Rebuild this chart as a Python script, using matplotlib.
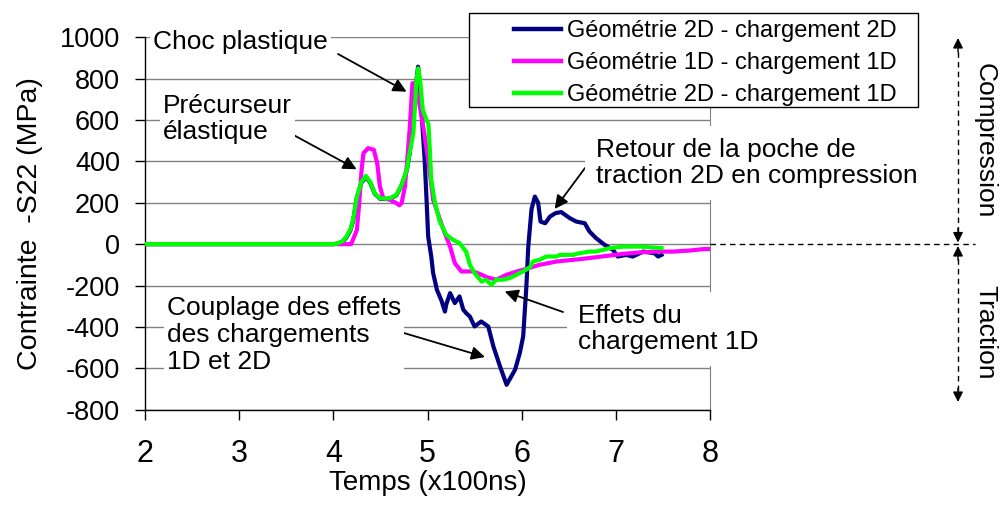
import matplotlib
matplotlib.use("Agg")
import matplotlib.pyplot as plt
from matplotlib.lines import Line2D
from matplotlib.patches import Rectangle, FancyArrowPatch

plt.rcParams['font.family'] = ['Liberation Sans', 'DejaVu Sans']
plt.rcParams['axes.unicode_minus'] = False

# ---------------- data ----------------
labels = ["Géométrie 2D - chargement 2D",
          "Géométrie 1D - chargement 1D",
          "Géométrie 2D - chargement 1D"]
colors = ["#000080", "#FF00FF", "#00FF00"]

x_2d2d = [2.0, 3.9, 4.0, 4.035, 4.10, 4.14, 4.18, 4.21, 4.25, 4.30, 4.345, 4.39, 4.44, 4.495,
          4.55, 4.60, 4.67, 4.725, 4.78, 4.81, 4.85, 4.88, 4.90, 4.94, 4.97, 4.99, 5.007, 5.04,
          5.06, 5.10, 5.15, 5.185, 5.20, 5.24, 5.29, 5.34, 5.38, 5.41, 5.45, 5.50, 5.57, 5.645,
          5.70, 5.77, 5.84, 5.93, 5.98, 6.016, 6.034, 6.05, 6.07, 6.105, 6.14, 6.175, 6.20,
          6.25, 6.30, 6.36, 6.42, 6.51, 6.58, 6.67, 6.72, 6.79, 6.88, 6.97, 7.02, 7.11, 7.18,
          7.29, 7.41, 7.45, 7.485]
y_2d2d = [0, 0, 0, 2, 12, 33, 65, 112, 225, 298, 325, 298, 244, 220,
          218, 220, 236, 284, 357, 437, 600, 778, 858, 616, 407, 214, 37, -60,
          -140, -221, -275, -326, -290, -237, -285, -253, -317, -333, -350, -398, -374, -398,
          -495, -591, -680, -607, -527, -446, -317, -205, -12, 170, 230, 200, 109,
          101, 133, 150, 155, 126, 109, 101, 61, 29, -3, -28, -60, -52, -60,
          -36, -44, -60, -52]

x_1d1d = [2.0, 4.19, 4.25, 4.275, 4.30, 4.32, 4.37, 4.43, 4.466, 4.495, 4.53, 4.60, 4.67,
          4.70, 4.725, 4.76, 4.785, 4.81, 4.84, 4.866, 4.90, 4.955, 5.007, 5.06, 5.17, 5.24,
          5.29, 5.36, 5.485, 5.56, 5.63, 5.73, 5.84, 5.95, 6.016, 6.19, 6.37, 6.65, 6.90,
          7.08, 7.255, 7.43, 7.61, 7.785, 7.93, 8.0]
y_1d1d = [0, 0, 69, 198, 359, 440, 464, 456, 391, 278, 222, 214, 198,
          188, 198, 278, 407, 552, 778, 778, 713, 568, 407, 214, 69, -12,
          -92, -132, -132, -145, -160, -172, -148, -132, -124, -100, -84, -71, -57,
          -47, -40, -36, -36, -31, -24, -24]

x_2d1d = [2.0, 4.0, 4.035, 4.10, 4.14, 4.18, 4.21, 4.25, 4.30, 4.345, 4.39, 4.44, 4.495,
          4.55, 4.60, 4.67, 4.725, 4.78, 4.81, 4.85, 4.88, 4.90, 4.92, 4.95, 4.99, 5.01,
          5.025, 5.04, 5.08, 5.13, 5.20, 5.27, 5.34, 5.41, 5.45, 5.50, 5.575, 5.62, 5.68,
          5.73, 5.80, 5.875, 5.91, 5.98, 6.016, 6.09, 6.12, 6.19, 6.26, 6.37, 6.405, 6.55,
          6.58, 6.72, 6.79, 6.94, 7.08, 7.255, 7.485]
y_2d1d = [0, 0, 2, 15, 37, 70, 117, 230, 302, 330, 302, 246, 222,
          220, 222, 238, 286, 359, 440, 536, 778, 850, 800, 650, 600, 580,
          455, 310, 198, 109, 45, 21, 5, -36, -100, -140, -181, -172, -197,
          -172, -172, -164, -156, -140, -132, -111, -84, -76, -60, -60, -52, -52,
          -47, -36, -36, -19, -12, -12, -19]

series_x = [x_2d2d, x_1d1d, x_2d1d]
series_y = [y_2d2d, y_1d1d, y_2d1d]

x_ticks = [2, 3, 4, 5, 6, 7, 8]
y_ticks = [-800, -600, -400, -200, 0, 200, 400, 600, 800, 1000]

# ---------------- figure ----------------
W, H = 1002, 507
fig = plt.figure(figsize=(W / 100, H / 100), dpi=100)

def fp(px, py):
    """pixel (from top-left) -> figure fraction"""
    return (px / W, 1 - py / H)

L, R, T, B = 145, 710, 37.3, 409.6
ax = fig.add_axes([L / W, 1 - B / H, (R - L) / W, (B - T) / H])

for xs, ys, c, lab in zip(series_x, series_y, colors, labels):
    ax.plot(xs, ys, color=c, lw=3.0, label=lab, solid_joinstyle='round', zorder=3)

ax.set_xlim(2, 8)
ax.set_ylim(-800, 1000)
ax.set_xticks(x_ticks)
ax.set_yticks(y_ticks)
ax.tick_params(axis='x', labelsize=22, length=7, width=1, pad=14, direction='out')
ax.tick_params(axis='y', labelsize=19.5, length=7, width=1, pad=11, direction='out')
ax.yaxis.grid(True, color='#808080', lw=1)
ax.set_axisbelow(True)
ax.spines['top'].set_visible(False)
ax.spines['right'].set_color('#808080')
ax.spines['left'].set_linewidth(1)
ax.spines['bottom'].set_linewidth(1)
ax.set_xlabel("Temps (x100ns)", fontsize=20, labelpad=1)
ax.set_ylabel("Contrainte  -S22 (MPa)", fontsize=20.5, labelpad=12)

# ---------------- legend ----------------
fig.patches.append(Rectangle(fp(469, 107), (918 - 469) / W, (107 - 13) / H,
                             transform=fig.transFigure, facecolor='white',
                             edgecolor='black', lw=1, zorder=5))
leg = fig.legend(loc='upper left', bbox_to_anchor=fp(514, 20), frameon=False,
                 fontsize=17, handlelength=2.0, handletextpad=0.25,
                 labelspacing=0.42, borderpad=0, borderaxespad=0)
for h in leg.get_lines():
    h.set_linewidth(3.2)
leg.set_zorder(6)

# ---------------- annotations ----------------
arrow = dict(arrowstyle='-|>', color='black', lw=1.3, mutation_scale=20,
             shrinkA=0, shrinkB=0)
tfs = 19

def note(text, tx, ty, tail, tip, pad=2):
    fig.text(*fp(tx, ty), text, fontsize=tfs, ha='left', va='center',
             bbox=dict(facecolor='white', edgecolor='none', pad=pad),
             zorder=7, linespacing=1.15)
    ax.annotate('', xy=tip, xycoords='data', xytext=fp(*tail),
                textcoords='figure fraction', arrowprops=arrow, zorder=8,
                annotation_clip=False)

note("Choc plastique", 153, 42, (338, 54), (4.778, 737))
note("Précurseur\nélastique", 163, 119, (288, 132), (4.247, 362))
note("Retour de la poche de\ntraction 2D en compression", 596, 163, (585, 168), (6.35, 170), pad=8)
note("Effets du\nchargement 1D", 578, 329, (563, 312), (5.82, -229), pad=8)
note("Couplage des effets\ndes chargements\n1D et 2D", 167, 335, (387, 328), (5.61, -546))

# ---------------- right-hand side: compression / traction ----------------
dash = (0, (4, 3))
fig.add_artist(Line2D([710 / W, 975 / W], [1 - 244.3 / H] * 2, transform=fig.transFigure,
                      color='black', lw=1, ls=dash))
fig.add_artist(Line2D([958 / W] * 2, [1 - 42 / H, 1 - 239 / H], transform=fig.transFigure,
                      color='black', lw=1, ls=dash))
fig.add_artist(Line2D([958 / W] * 2, [1 - 249 / H, 1 - 398 / H], transform=fig.transFigure,
                      color='black', lw=1, ls=dash))
head = dict(arrowstyle='-|>', color='black', lw=1, mutation_scale=15, shrinkA=0, shrinkB=0)
for tip, tail in [((958, 38), (958, 52)), ((958, 242.5), (958, 228)),
                  ((958, 246), (958, 260)), ((958, 402), (958, 388))]:
    fig.add_artist(FancyArrowPatch(fp(*tail), fp(*tip), transform=fig.transFigure, **head))
fig.text(*fp(985, 141), "Compression", rotation=-90, fontsize=19, ha='center', va='center')
fig.text(*fp(985, 332), "Traction", rotation=-90, fontsize=19, ha='center', va='center')

fig.savefig("out.png", dpi=100)
